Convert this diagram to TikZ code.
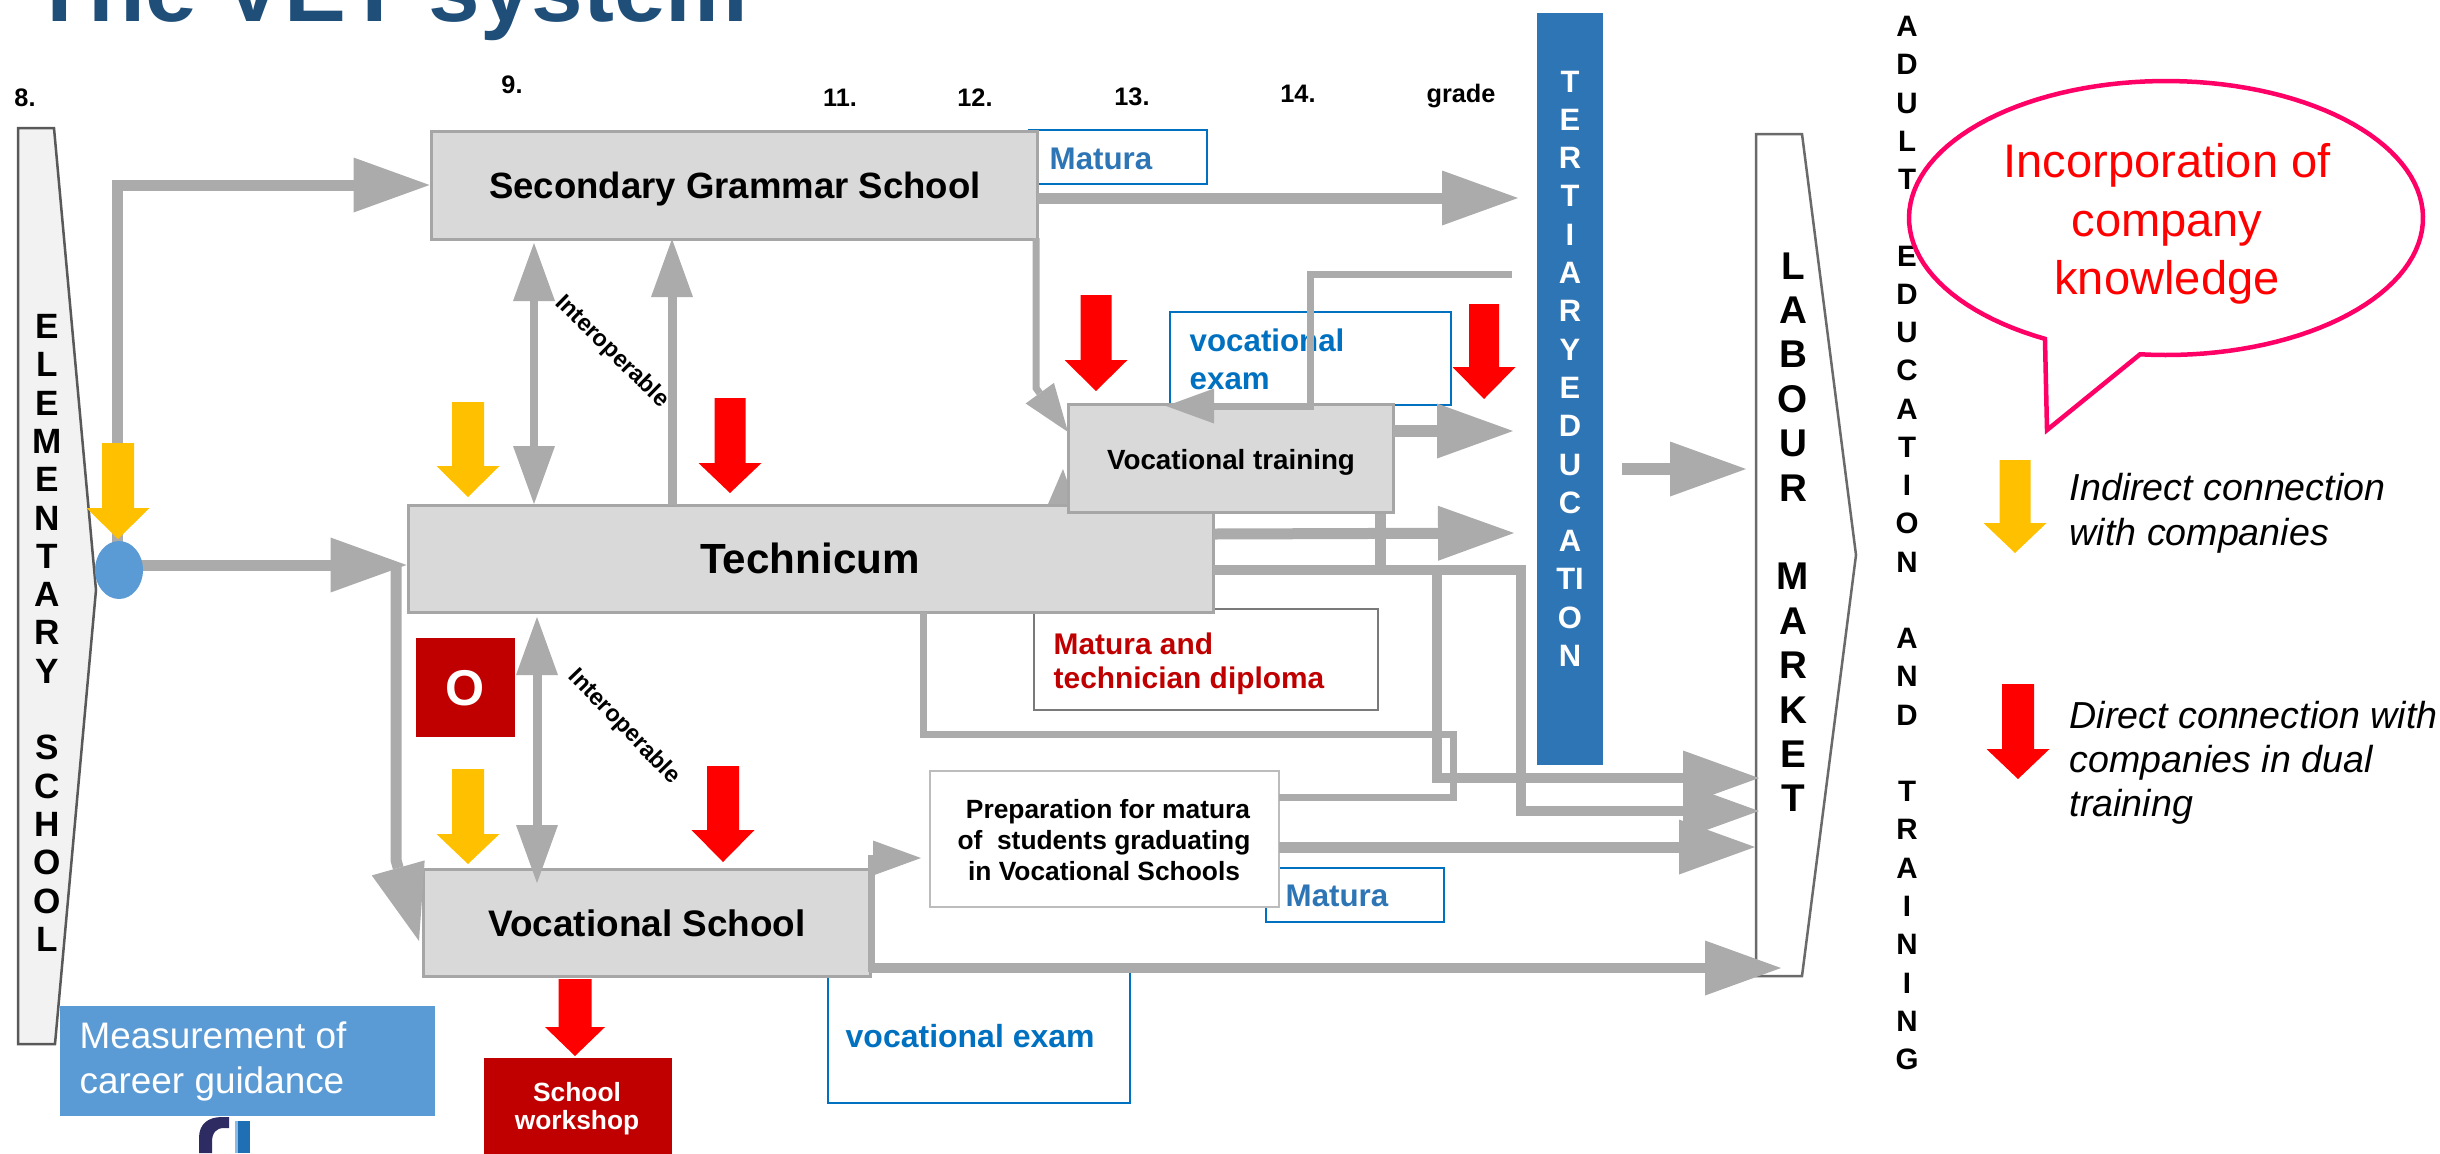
\documentclass[tikz,border=0pt]{standalone}
\usepackage{fontspec}
\setmainfont{Liberation Sans}
\usetikzlibrary{arrows.meta}
\definecolor{gcol}{HTML}{ABABAB}
\definecolor{boxfill}{HTML}{D9D9D9}
\definecolor{boxline}{HTML}{A6A6A6}
\definecolor{yel}{HTML}{FFC000}
\definecolor{redA}{HTML}{FF0000}
\definecolor{darkred}{HTML}{C00000}
\definecolor{tblue}{HTML}{2E75B6}
\definecolor{lblue}{HTML}{5B9BD5}
\definecolor{vblue}{HTML}{0070C0}
\definecolor{titleblue}{HTML}{1F4E79}
\definecolor{pinkc}{HTML}{FF0066}
\definecolor{elfill}{HTML}{F2F2F2}
\definecolor{elline}{HTML}{595959}
\definecolor{navy}{HTML}{2E2B62}
\definecolor{logoblue}{HTML}{1F6FB5}
\newcommand{\fsz}[2]{\fontsize{#1}{#2}\selectfont}
\newcommand{\blockarrow}[7]{%
  \fill[#7] ({#1-#5/2},#2) -- ({#1+#5/2},#2) -- ({#1+#5/2},#3) -- ({#1+#6/2},#3) -- (#1,#4) -- ({#1-#6/2},#3) -- ({#1-#5/2},#3) -- cycle;}
\tikzset{
  bigh/.tip={Triangle[length=7.6mm,width=5.5mm,line width=0pt]},
  midh/.tip={Triangle[length=5.8mm,width=4.2mm,line width=0pt]},
  smallh/.tip={Triangle[length=4.8mm,width=3.5mm,line width=0pt]},
  tinyh/.tip={Triangle[length=3.6mm,width=2.8mm,line width=0pt]},
  conn/.style={draw=gcol, line join=miter},
  box/.style={draw=boxline, fill=boxfill, line width=0.3mm, inner sep=0pt},
  bluebox/.style={draw=vblue, fill=white, line width=0.2mm, inner sep=0pt},
  txt/.style={inner sep=0pt},
  grade/.style={inner sep=0pt, anchor=base, font=\fsz{7.2pt}{8pt}\bfseries},
  yarrow/.style={fill=yel},
  rarrow/.style={fill=redA},
}
\begin{document}
\begin{tikzpicture}[x=0.1mm,y=-0.1mm]
\useasboundingbox (0,0) rectangle (2440,1153);
\clip (0,0) rectangle (2440,1153);

% title
\node[txt, anchor=base west, text=titleblue, font=\fsz{26.4pt}{30pt}\bfseries] (title) at (31,21) {The VET system};

% grade labels
\node[grade] (g8) at (25,106) {8.};
\node[grade] (g9) at (512,93) {9.};
\node[grade] (g11) at (840,106) {11.};
\node[grade] (g12) at (975,106) {12.};
\node[grade] (g13) at (1132,105) {13.};
\node[grade] (g14) at (1298,102) {14.};
\node[grade] (ggr) at (1461,102) {grade};

% elementary school shape
\draw[draw=elline, fill=elfill, line width=0.25mm] (18,128) -- (54,128) -- (96,590) -- (55,1044) -- (18,1044) -- cycle;
\foreach \l [count=\i from 0] in {E,L,E,M,E,N,T,A,R,Y,{},S,C,H,O,O,L}
  \node[txt, anchor=base, font=\fsz{10pt}{11pt}\bfseries] (el\i) at (47,{338.5+\i*38.3}) {\l};

% labour market shape
\draw[draw=elline!90, fill=white, line width=0.25mm] (1756,134) -- (1802,134) -- (1856,555) -- (1802,976) -- (1756,976) -- cycle;
\foreach \l [count=\i from 0] in {L,A,B,O,U,R,{},M,A,R,K,E,T}
  \node[txt, anchor=base, font=\fsz{11pt}{12pt}\bfseries] (lm\i) at (1793,{279+\i*44.4}) {\l};

% tertiary education bar
\fill[tblue] (1537,13) rectangle (1603,765);
\foreach \l [count=\i from 0] in {T,E,R,T,I,A,R,Y,E,D,U,C,A,TI,O,N}
  \node[txt, anchor=base, text=white, font=\fsz{8.8pt}{10pt}\bfseries] (te\i) at (1570,{92+\i*38.3}) {\l};

% adult education and training
\foreach \l [count=\i from 0] in {A,D,U,L,T,{},E,D,U,C,A,T,I,O,N,{},A,N,D,{},T,R,A,I,N,I,N,G}
  \node[txt, anchor=base, font=\fsz{8.4pt}{9pt}\bfseries] (ad\i) at (1907,{36.5+\i*38.26}) {\l};

% label boxes drawn behind
\node[bluebox, minimum width=30.2mm, minimum height=13.5mm] (vex2) at (979,1035.5) {};
\node[txt, anchor=base west, text=vblue, font=\fsz{9.1pt}{10pt}\bfseries] (vex2t) at (845,1047) {vocational exam};
\node[bluebox, minimum width=17.8mm, minimum height=5.4mm] (mat1) at (1118,157) {};
\node[txt, anchor=base west, text=tblue, font=\fsz{8.9pt}{10pt}\bfseries] (mat1t) at (1049,169) {Matura};
\node[bluebox, minimum width=17.8mm, minimum height=5.4mm] (mat2) at (1355,895) {};
\node[txt, anchor=base west, text=tblue, font=\fsz{8.9pt}{10pt}\bfseries] (mat2t) at (1285,906) {Matura};
\node[draw=elline!80, fill=white, line width=0.2mm, inner sep=0pt, minimum width=34.4mm, minimum height=10.1mm] (mtd) at (1206,659.5) {};
\node[txt, anchor=base west, text=darkred, font=\fsz{8.5pt}{10pt}\bfseries] (mtd1) at (1053,654) {Matura and};
\node[txt, anchor=base west, text=darkred, font=\fsz{8.5pt}{10pt}\bfseries] (mtd2) at (1053,688) {technician diploma};
\node[bluebox, minimum width=28.1mm, minimum height=9.3mm] (vex1) at (1310.5,358.5) {};
\node[txt, anchor=base west, text=vblue, font=\fsz{8.9pt}{10pt}\bfseries] (vex1a) at (1189,351) {vocational};
\node[txt, anchor=base west, text=vblue, font=\fsz{8.9pt}{10pt}\bfseries] (vex1b) at (1189,389) {exam};

% connectors under boxes
\draw[conn, line width=0.7mm, -tinyh] (1060,560) -- (1063,469);
\draw[conn, line width=1.1mm] (1380,512) -- (1380,570);

% main boxes
\node[box, minimum width=60.6mm, minimum height=10.8mm] (gram) at (734,185) {};
\node[box, minimum width=80.5mm, minimum height=10.7mm] (tech) at (810.5,558.5) {};
\node[box, minimum width=32.5mm, minimum height=10.8mm] (vtr) at (1230.5,458) {};
\node[box, minimum width=44.7mm, minimum height=10.7mm] (vs) at (646.5,922.5) {};
\node[draw=boxline!75, fill=white, line width=0.25mm, inner sep=0pt, minimum width=34.9mm, minimum height=13.6mm] (prep) at (1104.5,839) {};

\node[txt, anchor=base, font=\fsz{10.4pt}{12pt}\bfseries] (gramt) at (735,198) {Secondary Grammar School};
\node[txt, anchor=base, font=\fsz{12pt}{14pt}\bfseries] (techt) at (810,573) {Technicum};
\node[txt, anchor=base, font=\fsz{7.9pt}{9pt}\bfseries] (vtrt) at (1231,469) {Vocational training};
\node[txt, anchor=base, font=\fsz{10.5pt}{12pt}\bfseries] (vst) at (647,936) {Vocational School};
\node[txt, anchor=base, font=\fsz{7.5pt}{9pt}\bfseries] (prep1) at (1108,818) {Preparation for matura};
\node[txt, anchor=base, font=\fsz{7.5pt}{9pt}\bfseries] (prep2) at (1104,849) {of\ \ students graduating};
\node[txt, anchor=base, font=\fsz{7.5pt}{9pt}\bfseries] (prep3) at (1104,880) {in Vocational Schools};

% gray connectors
\draw[conn, line width=1.1mm, -bigh] (117,569) |- (gram.west |- 0,185);
\draw[conn, line width=1.1mm, -bigh] (117,565) -- (tech.west |- 0,565);
\draw[conn, line width=1.1mm, -bigh] (396,565) -- (396,860) -- (419,941);
\draw[conn, line width=0.8mm, midh-midh] (534,504) -- (534,243);
\draw[conn, line width=0.9mm, -midh] (672,505) -- (672,239);
\draw[conn, line width=0.9mm, midh-midh] (537,617) -- (537,883);
\draw[conn, line width=1.1mm, -bigh] (1037,198) -- (1518,198);
\draw[conn, line width=0.7mm, -smallh] (1036,238) -- (1036,388) -- (1068,432);
\draw[conn, line width=0.7mm, -smallh] (1512,274) -- (1310,274) -- (1310,406) -- (1166,406);
\draw[conn, line width=1.2mm, -bigh] (1393,431) -- (1513,431);
\draw[conn, line width=1.1mm, -bigh] (1213,534) -- (1514,533);
\draw[conn, line width=1.2mm, -bigh] (1622,469) -- (1746,469);
\draw[conn, line width=1.0mm, -bigh] (1213,570) -- (1521,570) -- (1521,811) -- (1759,811);
\draw[conn, line width=1.0mm, -bigh] (1437,570) -- (1437,778) -- (1759,778);
\draw[conn, line width=0.7mm] (923,612) -- (923,734) -- (1453,734) -- (1453,797) -- (1279,797);
\draw[conn, line width=1.1mm, -bigh] (1279,847) -- (1755,847);
\draw[conn, line width=1.0mm, -bigh] (870,968) -- (1781,968);
\draw[conn, line width=0.7mm, -smallh] (871,972) -- (871,858) -- (921,858);

% interoperable labels
\node[txt, rotate=-44.5, font=\fsz{6.7pt}{7pt}\bfseries] (int1) at (612,352) {Interoperable};
\node[txt, rotate=-46, font=\fsz{6.7pt}{7pt}\bfseries] (int2) at (624,727) {Interoperable};

% yellow and red block arrows
\blockarrow{118}{443}{508}{539}{32}{63}{yarrow}
\blockarrow{468}{402}{466}{497}{32}{63}{yarrow}
\blockarrow{468}{769}{834}{864}{32}{63}{yarrow}
\blockarrow{730}{398}{463}{493}{31}{63}{rarrow}
\blockarrow{1096}{295}{360}{391}{31}{63}{rarrow}
\blockarrow{1484}{304}{367}{399}{30}{63}{rarrow}
\blockarrow{723}{766}{830}{862}{32}{63}{rarrow}
\blockarrow{575}{979}{1027}{1056}{33}{60}{rarrow}

% blue circle
\fill[lblue] (119,570) ellipse [x radius=2.4mm, y radius=2.9mm];

% O box
\node[fill=darkred, inner sep=0pt, minimum width=9.9mm, minimum height=9.9mm] (obox) at (465.5,687.5) {};
\node[txt, anchor=base, text=white, font=\fsz{14.3pt}{16pt}\bfseries] (ot) at (465,705) {O};

% school workshop
\node[fill=darkred, inner sep=0pt, minimum width=18.8mm, minimum height=10.2mm] (sw) at (578,1109) {};
\node[txt, anchor=base, text=white, font=\fsz{7.5pt}{9pt}\bfseries] (sw1) at (577,1101) {School};
\node[txt, anchor=base, text=white, font=\fsz{7.5pt}{9pt}\bfseries] (sw2) at (577,1129) {workshop};

% measurement
\node[fill=lblue, inner sep=0pt, minimum width=37.5mm, minimum height=11mm] (meas) at (247.5,1061) {};
\node[txt, anchor=base west, text=white, font=\fsz{10.5pt}{12pt}] (meas1) at (79,1048) {Measurement of};
\node[txt, anchor=base west, text=white, font=\fsz{10.5pt}{12pt}] (meas2) at (79,1093) {career guidance};

% logo fragment
\fill[navy] (199,1153) -- (199,1138) .. controls (199,1124) and (208,1117) .. (222,1117) -- (229,1117) -- (229,1128) -- (224,1128) .. controls (216,1128) and (212,1133) .. (212,1142) -- (212,1153) -- cycle;
\fill[lblue!70] (235,1121) rectangle (238,1153);
\fill[logoblue] (238,1121) rectangle (250,1153);

% speech bubble
\draw[pinkc, line width=0.45mm, fill=white, line join=miter] plot[domain=118.1:455.8, samples=120] ({2166+257*cos(\x)},{218+137*sin(\x)}) -- (2047,430) -- cycle;
\node[txt, anchor=base, text=redA, font=\fsz{13.4pt}{16pt}] (inc1) at (2167,177) {Incorporation of};
\node[txt, anchor=base, text=redA, font=\fsz{13.4pt}{16pt}] (inc2) at (2167,236) {company};
\node[txt, anchor=base, text=redA, font=\fsz{13.4pt}{16pt}] (inc3) at (2167,294) {knowledge};

% legend
\blockarrow{2015}{460}{523}{553}{31}{63}{yarrow}
\blockarrow{2018}{684}{749}{779}{32}{63}{rarrow}
\node[txt, anchor=base west, font=\fsz{10.7pt}{13pt}\itshape] (leg1) at (2069,500) {Indirect connection};
\node[txt, anchor=base west, font=\fsz{10.7pt}{13pt}\itshape] (leg2) at (2069,545) {with companies};
\node[txt, anchor=base west, font=\fsz{10.7pt}{13pt}\itshape] (leg3) at (2069,728) {Direct connection with};
\node[txt, anchor=base west, font=\fsz{10.7pt}{13pt}\itshape] (leg4) at (2069,772) {companies in dual};
\node[txt, anchor=base west, font=\fsz{10.7pt}{13pt}\itshape] (leg5) at (2069,816) {training};
\end{tikzpicture}
\end{document}
